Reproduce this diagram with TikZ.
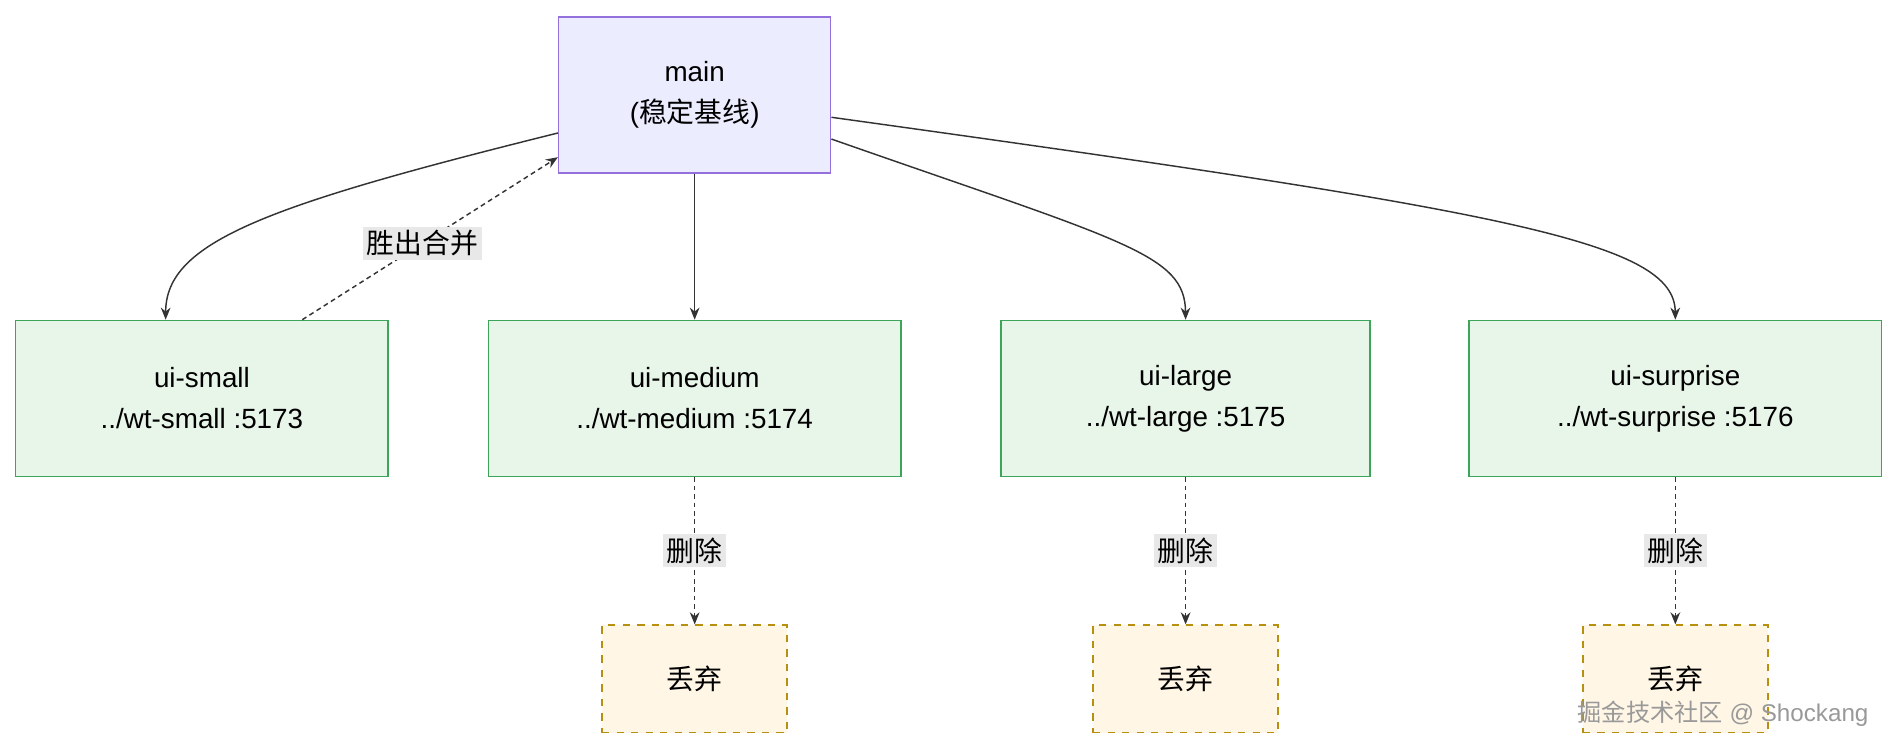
\documentclass[tikz,border=0pt]{standalone}
\usepackage{fontspec}
\setmainfont{Liberation Sans}
\newfontfamily\cjk{Noto Sans CJK SC}
\usetikzlibrary{arrows.meta}
\definecolor{mainfill}{HTML}{ECECFF}
\definecolor{mainline}{HTML}{9370DB}
\definecolor{gfill}{HTML}{E8F5E9}
\definecolor{gline}{HTML}{3DA55A}
\definecolor{yfill}{HTML}{FFF6E6}
\definecolor{yline}{HTML}{B8900F}
\definecolor{lblbg}{HTML}{E8E8E8}
\definecolor{edge}{HTML}{333333}
\begin{document}
\begin{tikzpicture}[x=0.5pt,y=-0.5pt,
  every node/.style={font=\fontsize{11.5}{17}\selectfont, text=black},
  mainbox/.style={draw=mainline, fill=mainfill, line width=0.6pt, minimum width=112.5pt, minimum height=64.5pt, align=center},
  gbox/.style={draw=gline, fill=gfill, line width=0.6pt, minimum height=64.5pt, align=center},
  ybox/.style={draw=yline, fill=yfill, line width=0.6pt, dashed, minimum width=76.5pt, minimum height=44.5pt},
  lbl/.style={fill=lblbg, inner sep=1.5pt},
  arr/.style={draw=edge, line width=0.6pt, -{Stealth[length=5pt,width=4pt]}},
  dot/.style={arr, dash pattern=on 2pt off 1.5pt}]
\useasboundingbox (0,0) rectangle (1568,620);
\fill[white] (0,0) rectangle (1568,620);
\node[mainbox] (main) at (574.5,78.5) {main\\({\cjk 稳定基线})};
\node[gbox, minimum width=154pt] (s) at (167,329.5) {ui-small\\../wt-small :5173};
\node[gbox, minimum width=170.5pt] (m) at (574.5,329.5) {ui-medium\\../wt-medium :5174};
\node[gbox, minimum width=152.5pt] (l) at (980.5,329.5) {ui-large\\../wt-large :5175};
\node[gbox, minimum width=170.5pt] (u) at (1385.5,329.5) {ui-surprise\\../wt-surprise :5176};
\node[ybox] (dm) at (574.5,561.5) {\cjk 丢弃};
\node[ybox] (dl) at (980.5,561.5) {\cjk 丢弃};
\node[ybox] (du) at (1385.5,561.5) {\cjk 丢弃};
\draw[arr] ([yshift=-15.75pt]main.west) .. controls (220,170) and (137,200) .. ([xshift=-15pt]s.north);
\draw[arr] (main) -- (m);
\draw[arr] ([yshift=-18.25pt]main.east) .. controls (930,200) and (980,210) .. (l.north);
\draw[arr] ([yshift=-9.25pt]main.east) .. controls (1250,175) and (1385,200) .. (u.north);
\draw[dot] ([xshift=41.5pt]s.north) -- node[lbl, pos=0.47] {\cjk 胜出合并} ([yshift=-25.75pt]main.west);
\draw[dot] (m) -- node[lbl] {\cjk 删除} (dm);
\draw[dot] (l) -- node[lbl] {\cjk 删除} (dl);
\draw[dot] (u) -- node[lbl] {\cjk 删除} (du);
\node[text=gray!80, font=\fontsize{10}{12}\selectfont] (wm) at (1425,590) {{\cjk 掘金技术社区} @ Shockang};
\end{tikzpicture}
\end{document}
